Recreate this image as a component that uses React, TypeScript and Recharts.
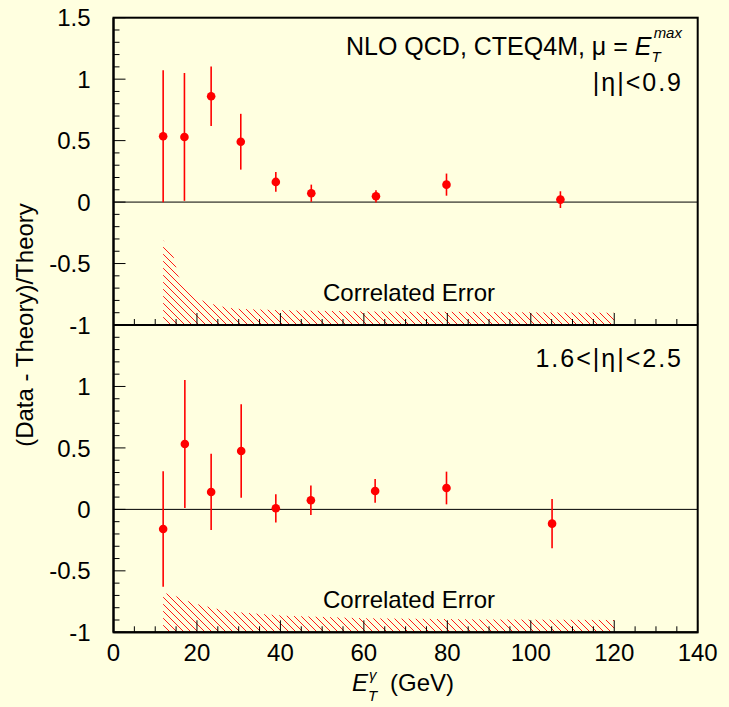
import React from 'react';
import { ComposedChart, Scatter, ErrorBar, Area, XAxis, YAxis, ReferenceLine } from 'recharts';

// E_T bin centres (GeV), |eta| < 0.9
const etCentral = [11.9, 17.0, 23.4, 30.5, 38.9, 47.4, 62.9, 79.8, 107.1];
const ratioCentral = [0.535, 0.53, 0.861, 0.491, 0.164, 0.072, 0.047, 0.142, 0.02];
const errCentral = [0.537, 0.52, 0.242, 0.227, 0.08, 0.07, 0.05, 0.09, 0.068];

// 1.6 < |eta| < 2.5
const etForward = [11.9, 17.1, 23.4, 30.6, 38.9, 47.3, 62.7, 79.8, 105.1];
const ratioForward = [-0.16, 0.532, 0.142, 0.475, 0.009, 0.074, 0.15, 0.174, -0.116];
const errForward = [0.47, 0.52, 0.31, 0.38, 0.115, 0.12, 0.097, 0.133, 0.2];

// correlated error band, upper edge (lower edge sits at -1)
const bandCentralEt = [11.9, 14.3, 15.5, 16.7, 18.8, 21.9, 24.3, 26.7, 29.5, 40, 60, 90, 120];
const bandCentralTop = [-0.31, -0.43, -0.6, -0.67, -0.76, -0.81, -0.835, -0.855, -0.868, -0.88, -0.89, -0.895, -0.9];
const bandForwardEt = [11.9, 14.3, 17.1, 19.5, 24.3, 29.1, 33.9, 41, 60, 90, 120];
const bandForwardTop = [-0.678, -0.697, -0.738, -0.765, -0.806, -0.834, -0.847, -0.865, -0.885, -0.895, -0.9];

const xTicks = [0, 5, 10, 15, 20, 25, 30, 35, 40, 45, 50, 55, 60, 65, 70, 75, 80, 85, 90, 95, 100, 105, 110, 115, 120, 125, 130, 135, 140];
const yTicks = [-1, -0.9, -0.8, -0.7, -0.6, -0.5, -0.4, -0.3, -0.2, -0.1, 0, 0.1, 0.2, 0.3, 0.4, 0.5, 0.6, 0.7, 0.8, 0.9, 1, 1.1, 1.2, 1.3, 1.4, 1.5];
const topLabels = ['1.5', '1', '0.5', '0', '-0.5', '-1'];
const bottomLabels = ['1', '0.5', '0', '-0.5', '-1'];

const W = 729;
const H = 707;
const PLOT_L = 113.5;
const PLOT_R = 697.7;
const PLOT_T = 17.7;
const MID_Y = 325;
const BOT_Y = 632.3;
const BG = '#ffffe0';
const RED = '#ff0000';
const FONT = '"Liberation Sans", Arial, Helvetica, sans-serif';

const pts = (xs: number[], ys: number[], es: number[]) => xs.map((x, i) => ({ x, y: ys[i], err: es[i] }));
const band = (xs: number[], ys: number[]) => xs.map((x, i) => ({ x, band: [-1, ys[i]] }));

const isMajor = (v: number) => Math.abs(v * 2 - Math.round(v * 2)) < 1e-6;

const makeYTick = (labels: string[]) => (props: any) => {
  const { y, payload } = props;
  const v = payload.value;
  const major = isMajor(v);
  const label = String(Math.round(v * 10) / 10);
  return (
    <g>
      <line x1={PLOT_L} x2={PLOT_L + (major ? 12 : 6)} y1={y} y2={y} stroke="#000" strokeWidth={1} />
      {major && labels.includes(label) && (
        <text x={PLOT_L - 23} y={y} dy="0.36em" textAnchor="end" fontSize={24} fontFamily={FONT} fill="#000">
          {label}
        </text>
      )}
    </g>
  );
};

const makeXTick = (bottom: number, showLabel: boolean) => (props: any) => {
  const { x, payload } = props;
  const v = payload.value;
  const major = v % 20 === 0;
  return (
    <g>
      <line x1={x} x2={x} y1={bottom} y2={bottom - (major ? 12 : 6)} stroke="#000" strokeWidth={1} />
      {showLabel && major && (
        <text x={x} y={661} textAnchor="middle" fontSize={24} fontFamily={FONT} fill="#000">
          {v}
        </text>
      )}
    </g>
  );
};

const Dot = (props: any) => <circle cx={props.cx} cy={props.cy} r={4.3} fill={RED} />;

const Panel = ({ data, bandData, height, marginTop, xHeight, bottom, labels, showX, id }: any) => (
  <ComposedChart
    width={W}
    height={height}
    margin={{ top: marginTop, right: W - PLOT_R, bottom: 0, left: 0 }}
    style={{ position: 'absolute', left: 0, top: 0 }}
  >
    <defs>
      <pattern id={id} width="7" height="7" patternUnits="userSpaceOnUse">
        <path d="M-1,-1 L8,8 M-1,6 L1,8 M6,-1 L8,1" stroke={RED} strokeWidth={0.9} />
      </pattern>
    </defs>
    <XAxis
      dataKey="x"
      type="number"
      domain={[0, 140]}
      ticks={xTicks}
      interval={0}
      height={xHeight}
      tickLine={false}
      tick={makeXTick(bottom, showX)}
      axisLine={{ stroke: '#000', strokeWidth: 2 }}
      allowDataOverflow
    />
    <YAxis
      type="number"
      domain={[-1, 1.5]}
      ticks={yTicks}
      interval={0}
      width={PLOT_L}
      tickLine={false}
      tick={makeYTick(labels)}
      axisLine={{ stroke: '#000', strokeWidth: 2 }}
      allowDataOverflow
    />
    <Area data={bandData} dataKey="band" type="linear" stroke="none" fill={`url(#${id})`} fillOpacity={1} isAnimationActive={false} />
    <ReferenceLine y={0} stroke="#000" strokeWidth={1} />
    <Scatter data={data} dataKey="y" shape={Dot} isAnimationActive={false}>
      <ErrorBar dataKey="err" direction="y" width={0} stroke={RED} strokeWidth={1.6} />
    </Scatter>
  </ComposedChart>
);

export default function App() {
  return (
    <div style={{ position: 'absolute', left: 0, top: 0, width: W, height: H, background: BG, overflow: 'hidden' }}>
      <div style={{ position: 'absolute', left: 0, top: 0 }}>
        <Panel
          id="hatchTop"
          data={pts(etCentral, ratioCentral, errCentral)}
          bandData={band(bandCentralEt, bandCentralTop)}
          height={345}
          marginTop={PLOT_T}
          xHeight={20}
          bottom={MID_Y}
          labels={topLabels}
          showX={false}
        />
      </div>
      <div style={{ position: 'absolute', left: 0, top: 0 }}>
        <Panel
          id="hatchBottom"
          data={pts(etForward, ratioForward, errForward)}
          bandData={band(bandForwardEt, bandForwardTop)}
          height={H}
          marginTop={MID_Y}
          xHeight={H - BOT_Y}
          bottom={BOT_Y}
          labels={bottomLabels}
          showX={true}
        />
      </div>
      <svg width={W} height={H} style={{ position: 'absolute', left: 0, top: 0, pointerEvents: 'none' }} fontFamily={FONT} fill="#000">
        {/* frame */}
        <rect x={PLOT_L} y={PLOT_T} width={PLOT_R - PLOT_L} height={BOT_Y - PLOT_T} fill="none" stroke="#000" strokeWidth={2} />
        <text x={346} y={55} fontSize={25}>
          NLO QCD, CTEQ4M, μ = <tspan fontStyle="italic">E</tspan>
          <tspan fontStyle="italic" fontSize={15} dx={0} dy={7}>T</tspan>
          <tspan fontStyle="italic" fontSize={15} dx={-7} dy={-24}>max</tspan>
        </text>
        <text x={683} y={91} fontSize={25} textAnchor="end" letterSpacing={2}>|η|&lt;0.9</text>
        <text x={683} y={367} fontSize={25} textAnchor="end" letterSpacing={2}>1.6&lt;|η|&lt;2.5</text>
        <text x={323} y={301} fontSize={24}>Correlated Error</text>
        <text x={323} y={608} fontSize={24}>Correlated Error</text>
        <text x={33} y={325} fontSize={24} textAnchor="middle" transform="rotate(-90 33 325)">(Data - Theory)/Theory</text>
        <text y={691} fontSize={24}>
          <tspan x={352} fontStyle="italic">E</tspan>
          <tspan x={368} y={701} fontSize={15} fontStyle="italic">T</tspan>
          <tspan x={369} y={680} fontSize={15} fontStyle="italic">γ</tspan>
          <tspan x={390} y={691}>(GeV)</tspan>
        </text>
      </svg>
    </div>
  );
}
